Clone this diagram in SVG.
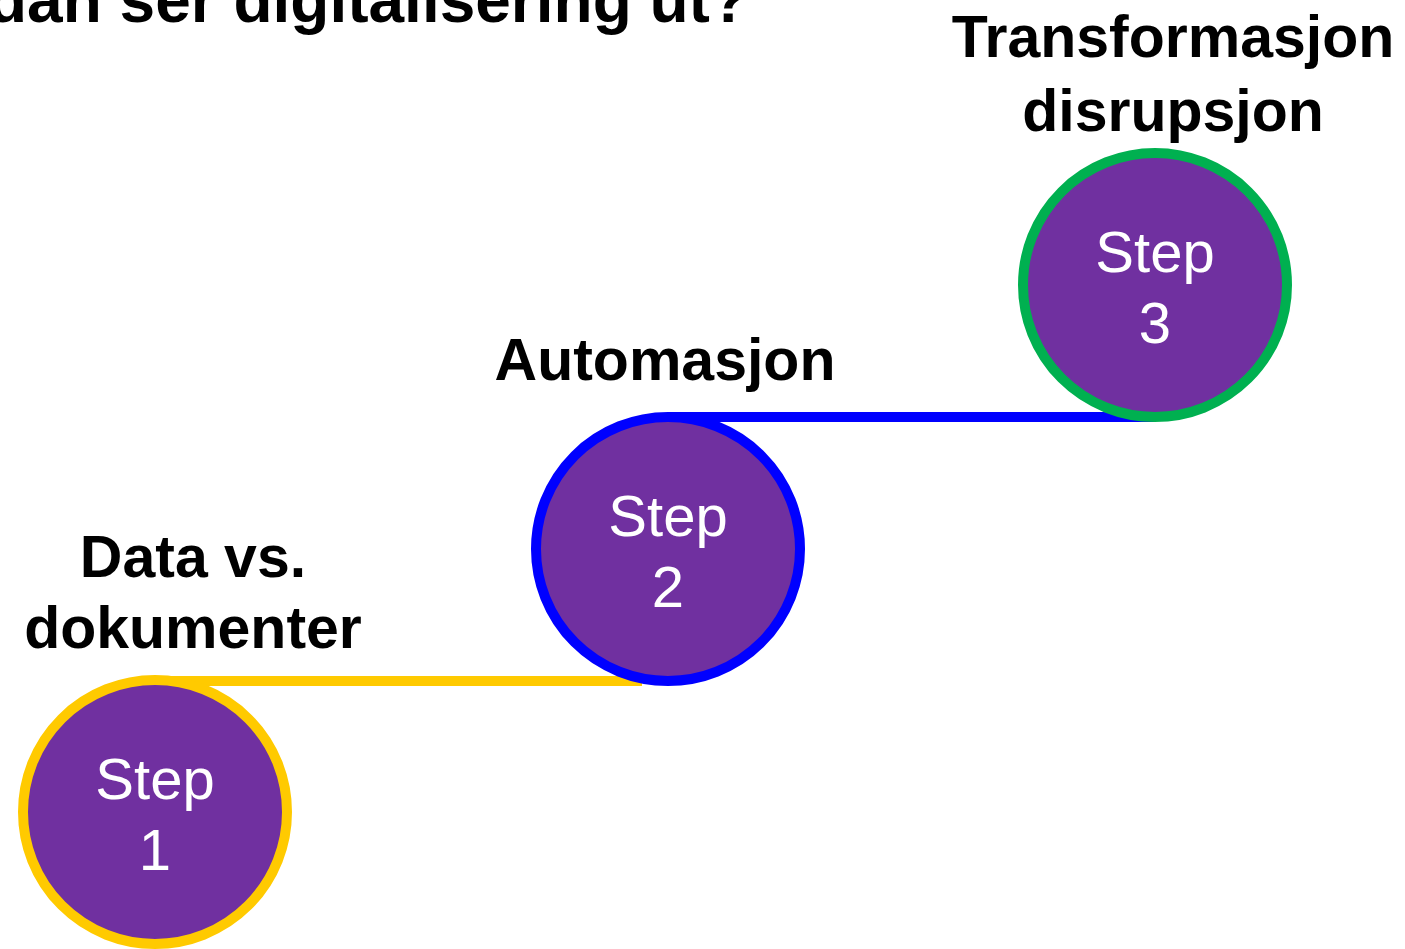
<svg xmlns="http://www.w3.org/2000/svg" width="1405" height="949" viewBox="0 0 1405 949">
<style>
.lbl{font-family:"Liberation Sans",Arial,sans-serif;font-weight:bold;font-size:59px;fill:#000;text-anchor:middle}
.title{font-family:"Liberation Sans",Arial,sans-serif;font-weight:bold;font-size:64px;fill:#000}
.step{font-family:"Liberation Sans",Arial,sans-serif;font-size:58px;fill:#fff;text-anchor:middle}
.node{fill:#7030A0;stroke-width:10}
</style>
<rect width="1405" height="949" fill="#fff"/>
<text class="title" x="-12" y="22">dan ser digitalisering ut?</text>
<g id="connectors">
<line x1="155" y1="681" x2="642" y2="681" stroke="#FFCA00" stroke-width="10"/>
<line x1="668" y1="417" x2="1155" y2="417" stroke="#0000FF" stroke-width="10"/>
</g>
<g id="step1">
<circle class="node" cx="155" cy="812" r="132" stroke="#FFCA00"/>
<text class="step" x="155" y="799">Step</text>
<text class="step" x="155" y="870">1</text>
</g>
<g id="step2">
<circle class="node" cx="668" cy="549" r="132" stroke="#0000FF"/>
<text class="step" x="668" y="536">Step</text>
<text class="step" x="668" y="607">2</text>
</g>
<g id="step3">
<circle class="node" cx="1155" cy="285" r="132" stroke="#00B050"/>
<text class="step" x="1155" y="272">Step</text>
<text class="step" x="1155" y="343">3</text>
</g>
<g id="label1">
<text class="lbl" x="193" y="577">Data vs.</text>
<text class="lbl" x="193" y="648">dokumenter</text>
</g>
<g id="label2">
<text class="lbl" x="665" y="380">Automasjon</text>
</g>
<g id="label3">
<text class="lbl" x="1173" y="57">Transformasjon</text>
<text class="lbl" x="1173" y="131">disrupsjon</text>
</g>
</svg>
